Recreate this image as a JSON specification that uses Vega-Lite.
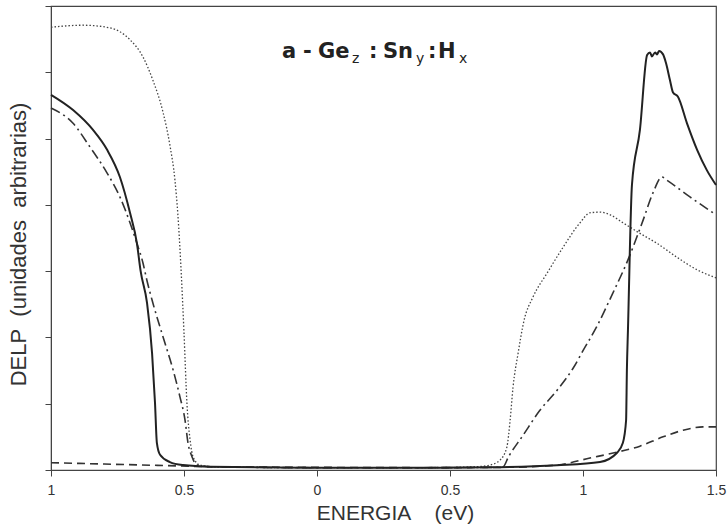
{
  "$schema": "https://vega.github.io/schema/vega-lite/v6.json",
  "autosize": "none",
  "width": 665,
  "height": 464,
  "padding": {"left": 51, "top": 6, "right": 11, "bottom": 61},
  "background": "white",
  "config": {
    "view": {"stroke": "#444", "strokeWidth": 1.2},
    "font": "Liberation Sans",
    "axis": {"domainColor": "#444", "tickColor": "#444", "labelColor": "#333", "titleColor": "#333", "grid": false, "labelFont": "Liberation Sans", "titleFont": "Liberation Sans", "titleFontWeight": "normal"},
    "text": {"font": "DejaVu Sans", "color": "#222", "align": "left", "baseline": "alphabetic"}
  },
  "datasets": {
    "curves": [
      {"s": "solid", "e": -1.0, "v": 5.66},
      {"s": "solid", "e": -0.917, "v": 5.43},
      {"s": "solid", "e": -0.842, "v": 5.13},
      {"s": "solid", "e": -0.789, "v": 4.83},
      {"s": "solid", "e": -0.741, "v": 4.42},
      {"s": "solid", "e": -0.703, "v": 3.88},
      {"s": "solid", "e": -0.677, "v": 3.42},
      {"s": "solid", "e": -0.663, "v": 3.0},
      {"s": "solid", "e": -0.639, "v": 2.52},
      {"s": "solid", "e": -0.620, "v": 1.76},
      {"s": "solid", "e": -0.609, "v": 1.01},
      {"s": "solid", "e": -0.602, "v": 0.41},
      {"s": "solid", "e": -0.590, "v": 0.23},
      {"s": "solid", "e": -0.553, "v": 0.12},
      {"s": "solid", "e": -0.504, "v": 0.075},
      {"s": "solid", "e": -0.4, "v": 0.05},
      {"s": "solid", "e": 0.0, "v": 0.035},
      {"s": "solid", "e": 0.4, "v": 0.035},
      {"s": "solid", "e": 0.65, "v": 0.04},
      {"s": "solid", "e": 0.902, "v": 0.07},
      {"s": "solid", "e": 1.064, "v": 0.12},
      {"s": "solid", "e": 1.128, "v": 0.26},
      {"s": "solid", "e": 1.150, "v": 0.41},
      {"s": "solid", "e": 1.162, "v": 0.75},
      {"s": "solid", "e": 1.165, "v": 1.51},
      {"s": "solid", "e": 1.169, "v": 2.11},
      {"s": "solid", "e": 1.184, "v": 4.30},
      {"s": "solid", "e": 1.214, "v": 5.13},
      {"s": "solid", "e": 1.241, "v": 6.26},
      {"s": "solid", "e": 1.252, "v": 6.30},
      {"s": "solid", "e": 1.259, "v": 6.24},
      {"s": "solid", "e": 1.271, "v": 6.30},
      {"s": "solid", "e": 1.278, "v": 6.27},
      {"s": "solid", "e": 1.286, "v": 6.32},
      {"s": "solid", "e": 1.301, "v": 6.27},
      {"s": "solid", "e": 1.312, "v": 6.14},
      {"s": "solid", "e": 1.327, "v": 5.88},
      {"s": "solid", "e": 1.338, "v": 5.70},
      {"s": "solid", "e": 1.357, "v": 5.63},
      {"s": "solid", "e": 1.391, "v": 5.23},
      {"s": "solid", "e": 1.429, "v": 4.83},
      {"s": "solid", "e": 1.466, "v": 4.52},
      {"s": "solid", "e": 1.5, "v": 4.30},

      {"s": "dashdot", "e": -1.0, "v": 5.46},
      {"s": "dashdot", "e": -0.917, "v": 5.23},
      {"s": "dashdot", "e": -0.853, "v": 4.87},
      {"s": "dashdot", "e": -0.789, "v": 4.48},
      {"s": "dashdot", "e": -0.741, "v": 4.12},
      {"s": "dashdot", "e": -0.703, "v": 3.73},
      {"s": "dashdot", "e": -0.677, "v": 3.42},
      {"s": "dashdot", "e": -0.654, "v": 3.12},
      {"s": "dashdot", "e": -0.640, "v": 2.87},
      {"s": "dashdot", "e": -0.617, "v": 2.52},
      {"s": "dashdot", "e": -0.579, "v": 2.01},
      {"s": "dashdot", "e": -0.541, "v": 1.51},
      {"s": "dashdot", "e": -0.515, "v": 1.10},
      {"s": "dashdot", "e": -0.496, "v": 0.75},
      {"s": "dashdot", "e": -0.485, "v": 0.41},
      {"s": "dashdot", "e": -0.470, "v": 0.20},
      {"s": "dashdot", "e": -0.451, "v": 0.075},
      {"s": "dashdot", "e": -0.4, "v": 0.05},
      {"s": "dashdot", "e": 0.0, "v": 0.035},
      {"s": "dashdot", "e": 0.4, "v": 0.035},
      {"s": "dashdot", "e": 0.65, "v": 0.04},
      {"s": "dashdot", "e": 0.699, "v": 0.045},
      {"s": "dashdot", "e": 0.72, "v": 0.2},
      {"s": "dashdot", "e": 0.774, "v": 0.52},
      {"s": "dashdot", "e": 0.838, "v": 0.90},
      {"s": "dashdot", "e": 0.902, "v": 1.20},
      {"s": "dashdot", "e": 0.965, "v": 1.55},
      {"s": "dashdot", "e": 1.0, "v": 1.80},
      {"s": "dashdot", "e": 1.05, "v": 2.15},
      {"s": "dashdot", "e": 1.11, "v": 2.65},
      {"s": "dashdot", "e": 1.169, "v": 3.17},
      {"s": "dashdot", "e": 1.226, "v": 3.77},
      {"s": "dashdot", "e": 1.263, "v": 4.18},
      {"s": "dashdot", "e": 1.297, "v": 4.42},
      {"s": "dashdot", "e": 1.316, "v": 4.37},
      {"s": "dashdot", "e": 1.402, "v": 4.12},
      {"s": "dashdot", "e": 1.5, "v": 3.85},

      {"s": "dotted", "e": -1.0, "v": 6.68},
      {"s": "dotted", "e": -0.880, "v": 6.71},
      {"s": "dotted", "e": -0.778, "v": 6.67},
      {"s": "dotted", "e": -0.703, "v": 6.49},
      {"s": "dotted", "e": -0.654, "v": 6.23},
      {"s": "dotted", "e": -0.617, "v": 5.88},
      {"s": "dotted", "e": -0.579, "v": 5.40},
      {"s": "dotted", "e": -0.553, "v": 4.90},
      {"s": "dotted", "e": -0.534, "v": 4.37},
      {"s": "dotted", "e": -0.523, "v": 3.85},
      {"s": "dotted", "e": -0.511, "v": 3.02},
      {"s": "dotted", "e": -0.500, "v": 2.07},
      {"s": "dotted", "e": -0.489, "v": 1.01},
      {"s": "dotted", "e": -0.477, "v": 0.45},
      {"s": "dotted", "e": -0.466, "v": 0.20},
      {"s": "dotted", "e": -0.440, "v": 0.075},
      {"s": "dotted", "e": -0.383, "v": 0.045},
      {"s": "dotted", "e": 0.0, "v": 0.035},
      {"s": "dotted", "e": 0.4, "v": 0.035},
      {"s": "dotted", "e": 0.60, "v": 0.05},
      {"s": "dotted", "e": 0.650, "v": 0.075},
      {"s": "dotted", "e": 0.688, "v": 0.15},
      {"s": "dotted", "e": 0.714, "v": 0.35},
      {"s": "dotted", "e": 0.726, "v": 0.75},
      {"s": "dotted", "e": 0.737, "v": 1.25},
      {"s": "dotted", "e": 0.756, "v": 1.76},
      {"s": "dotted", "e": 0.778, "v": 2.25},
      {"s": "dotted", "e": 0.812, "v": 2.61},
      {"s": "dotted", "e": 0.865, "v": 2.97},
      {"s": "dotted", "e": 0.925, "v": 3.36},
      {"s": "dotted", "e": 0.989, "v": 3.73},
      {"s": "dotted", "e": 1.026, "v": 3.88},
      {"s": "dotted", "e": 1.064, "v": 3.89},
      {"s": "dotted", "e": 1.102, "v": 3.85},
      {"s": "dotted", "e": 1.150, "v": 3.73},
      {"s": "dotted", "e": 1.214, "v": 3.57},
      {"s": "dotted", "e": 1.278, "v": 3.42},
      {"s": "dotted", "e": 1.353, "v": 3.21},
      {"s": "dotted", "e": 1.429, "v": 3.02},
      {"s": "dotted", "e": 1.5, "v": 2.90},

      {"s": "dashed", "e": -1.0, "v": 0.11},
      {"s": "dashed", "e": -0.8, "v": 0.09},
      {"s": "dashed", "e": -0.6, "v": 0.07},
      {"s": "dashed", "e": -0.4, "v": 0.05},
      {"s": "dashed", "e": 0.0, "v": 0.04},
      {"s": "dashed", "e": 0.4, "v": 0.035},
      {"s": "dashed", "e": 0.7, "v": 0.04},
      {"s": "dashed", "e": 0.902, "v": 0.075},
      {"s": "dashed", "e": 1.026, "v": 0.18},
      {"s": "dashed", "e": 1.139, "v": 0.28},
      {"s": "dashed", "e": 1.214, "v": 0.36},
      {"s": "dashed", "e": 1.301, "v": 0.50},
      {"s": "dashed", "e": 1.376, "v": 0.60},
      {"s": "dashed", "e": 1.451, "v": 0.65},
      {"s": "dashed", "e": 1.5, "v": 0.65}
    ],
    "label": [{"t": 1}]
  },
  "layer": [
    {
      "data": {"name": "curves"},
      "encoding": {
        "x": {
          "field": "e", "type": "quantitative",
          "scale": {"domain": [-1, 1.5], "nice": false, "zero": false},
          "axis": {"values": [-1, -0.5, 0, 0.5, 1, 1.5], "labelExpr": "abs(datum.value) + ''", "title": "ENERGIA\u00a0\u00a0\u00a0\u00a0(eV)", "titleFontSize": 21, "labelFontSize": 14, "tickSize": 6, "labelPadding": 7, "titlePadding": 5, "titleX": 344, "labelFlush": false}
        },
        "y": {
          "field": "v", "type": "quantitative",
          "scale": {"domain": [0, 7], "nice": false},
          "axis": {"values": [0, 1, 2, 3, 4, 5, 6, 7], "labels": false, "title": "DELP\u00a0\u00a0(unidades\u00a0\u00a0arbitrarias)", "titleFontSize": 22, "tickSize": 6, "titlePadding": 14, "titleY": 238}
        }
      },
      "layer": [
        {"transform": [{"filter": "datum.s == 'dashed'"}], "mark": {"type": "line", "color": "#333", "strokeWidth": 1.6, "strokeDash": [8, 5], "interpolate": "monotone"}},
        {"transform": [{"filter": "datum.s == 'dotted'"}], "mark": {"type": "line", "color": "#444", "strokeWidth": 1.3, "strokeDash": [1.5, 2], "interpolate": "monotone"}},
        {"transform": [{"filter": "datum.s == 'dashdot'"}], "mark": {"type": "line", "color": "#333", "strokeWidth": 1.6, "strokeDash": [10, 4, 2, 4], "interpolate": "monotone"}},
        {"transform": [{"filter": "datum.s == 'solid'"}], "mark": {"type": "line", "color": "#222", "strokeWidth": 2, "interpolate": "monotone"}}
      ]
    },
    {
      "data": {"name": "label"},
      "layer": [
        {"mark": {"type": "text", "text": "a", "fontSize": 21, "fontWeight": "bold"}, "encoding": {"x": {"datum": -0.1316, "type": "quantitative"}, "y": {"datum": 6.21, "type": "quantitative"}}},
        {"mark": {"type": "text", "text": "-", "fontSize": 21, "fontWeight": "bold"}, "encoding": {"x": {"datum": -0.0526, "type": "quantitative"}, "y": {"datum": 6.21, "type": "quantitative"}}},
        {"mark": {"type": "text", "text": "Ge", "fontSize": 21, "fontWeight": "bold"}, "encoding": {"x": {"datum": 0.0038, "type": "quantitative"}, "y": {"datum": 6.21, "type": "quantitative"}}},
        {"mark": {"type": "text", "text": "z", "fontSize": 14}, "encoding": {"x": {"datum": 0.1316, "type": "quantitative"}, "y": {"datum": 6.14, "type": "quantitative"}}},
        {"mark": {"type": "text", "text": ":", "fontSize": 21, "fontWeight": "bold"}, "encoding": {"x": {"datum": 0.1955, "type": "quantitative"}, "y": {"datum": 6.21, "type": "quantitative"}}},
        {"mark": {"type": "text", "text": "Sn", "fontSize": 21, "fontWeight": "bold"}, "encoding": {"x": {"datum": 0.2481, "type": "quantitative"}, "y": {"datum": 6.21, "type": "quantitative"}}},
        {"mark": {"type": "text", "text": "y", "fontSize": 14}, "encoding": {"x": {"datum": 0.3722, "type": "quantitative"}, "y": {"datum": 6.14, "type": "quantitative"}}},
        {"mark": {"type": "text", "text": ":", "fontSize": 21, "fontWeight": "bold"}, "encoding": {"x": {"datum": 0.4173, "type": "quantitative"}, "y": {"datum": 6.21, "type": "quantitative"}}},
        {"mark": {"type": "text", "text": "H", "fontSize": 21, "fontWeight": "bold"}, "encoding": {"x": {"datum": 0.4549, "type": "quantitative"}, "y": {"datum": 6.21, "type": "quantitative"}}},
        {"mark": {"type": "text", "text": "x", "fontSize": 14}, "encoding": {"x": {"datum": 0.5338, "type": "quantitative"}, "y": {"datum": 6.14, "type": "quantitative"}}}
      ]
    }
  ]
}
